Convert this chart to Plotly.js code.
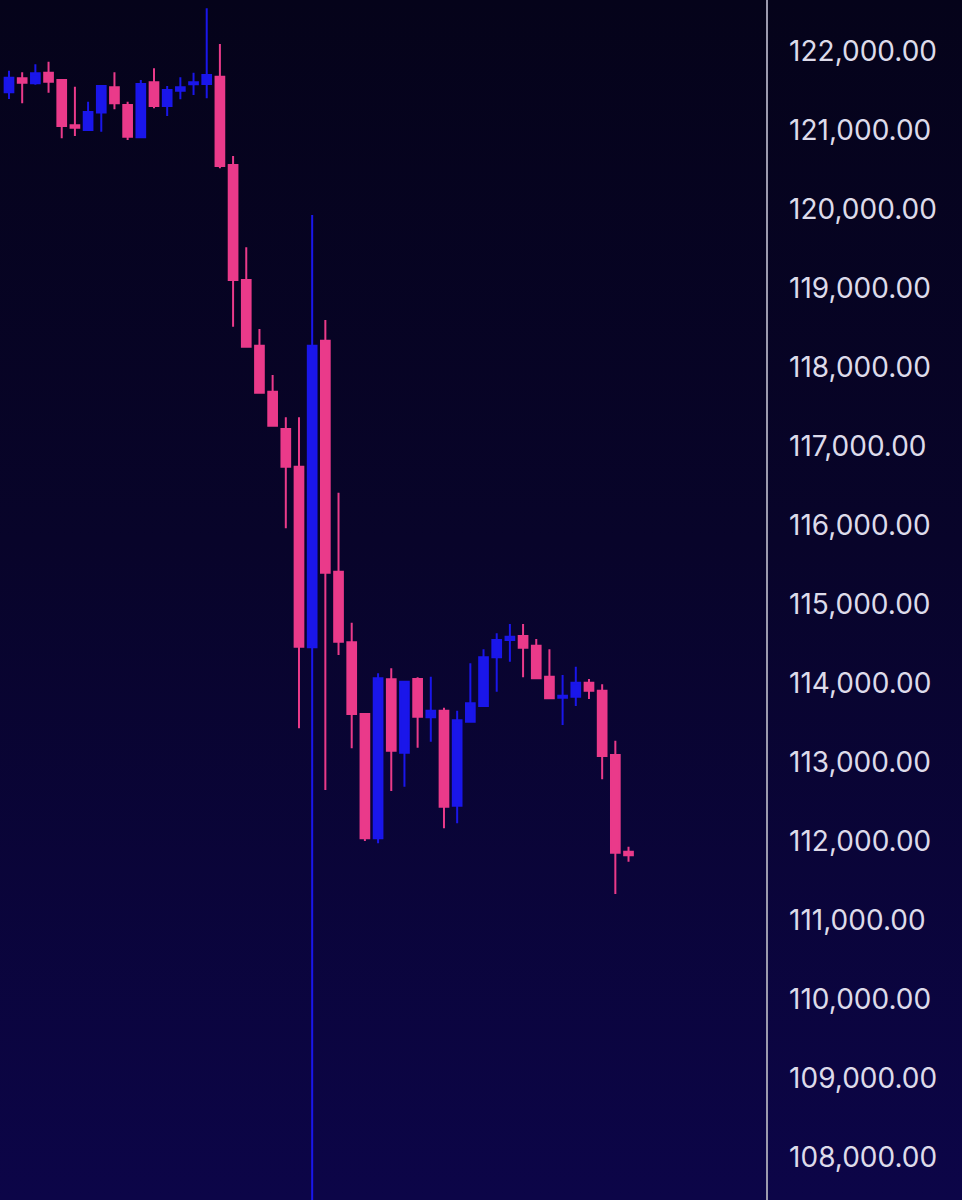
<!DOCTYPE html>
<html>
<head>
<meta charset="utf-8">
<script src="https://cdn.plot.ly/plotly-3.0.1.min.js"></script>
<style>
  html, body { margin: 0; padding: 0; }
  body { width: 962px; height: 1200px; background: linear-gradient(to bottom, #05031a 0%, #08042a 45%, #0c0548 100%); }
  #chart { width: 962px; height: 1200px; }
</style>
</head>
<body>
<div id="chart"></div>
<script>
// Candle index (time order)
const candleIndex = [0,1,2,3,4,5,6,7,8,9,10,11,12,13,14,15,16,17,18,19,20,21,22,23,24,25,26,27,28,29,30,31,32,33,34,35,36,37,38,39,40,41,42,43,44,45,46,47];

const openVals = [121484,121661,121597,121732,121639,121066,121006,121228,121547,121323,120914,121610,121310,121504,121585,121589,
  121681,120563,119108,118276,117694,117222,116744,114458,118339,115415,114522,113614,112041,114053,113124,114057,113572,113656,112453,113517,
  113715,114332,114551,114601,114479,114086,113820,113833,114010,113909,113095,111871];
const highVals = [121757,121737,121838,121871,121652,121554,121365,121570,121737,121365,121639,121787,121563,121673,121732,122547,
  122095,120677,119521,118487,117905,117370,117370,119930,118601,116415,114770,113614,114129,114193,114031,114079,114086,113694,113656,114256,
  114433,114636,114753,114753,114563,114433,114108,114213,114057,113990,113276,111934];
const lowVals = [121399,121344,121580,121478,120901,120930,121000,120985,121268,120880,120914,121281,121184,121395,121449,121408,
  120522,118517,118255,117673,117263,115965,113433,106500,112652,114361,113180,112006,111977,112639,112694,113188,113264,112167,112231,113517,
  113715,113897,114276,114079,114053,113808,113475,113715,113804,112787,111336,111744];
const closeVals = [121668,121605,121724,121618,121057,121035,121234,121563,121344,120922,121589,121310,121513,121547,121610,121703,
  120551,119108,118263,117681,117263,116744,114466,118276,115403,114529,113614,112041,114066,113150,114022,113580,113656,112440,113534,113750,
  114332,114551,114593,114453,114066,113813,113846,114010,113909,113082,111858,111825];

const priceTicks = [108000,109000,110000,111000,112000,113000,114000,115000,116000,117000,118000,119000,120000,121000,122000];

const upColor = '#1a16ea';
const downColor = '#ea3a8a';

const trace = {
  type: 'candlestick',
  x: candleIndex,
  open: openVals,
  high: highVals,
  low: lowVals,
  close: closeVals,
  increasing: { line: { color: upColor, width: 2 }, fillcolor: upColor },
  decreasing: { line: { color: downColor, width: 2 }, fillcolor: downColor },
  whiskerwidth: 0,
  hoverinfo: 'none',
  showlegend: false
};

const layout = {
  width: 962,
  height: 1200,
  margin: { l: 0, r: 196, t: 0, b: 0, pad: 0 },
  paper_bgcolor: 'rgba(0,0,0,0)',
  plot_bgcolor: 'rgba(0,0,0,0)',
  showlegend: false,
  boxgap: 0,
  boxgroupgap: 0.34,
  xaxis: {
    range: [-0.683, 57.43],
    showgrid: false, zeroline: false, showline: false, showticklabels: false, ticks: '',
    rangeslider: { visible: false },
    fixedrange: true
  },
  yaxis: {
    side: 'right',
    range: [107462, 122652],
    tickvals: priceTicks,
    tickformat: ',.2f',
    showgrid: false, zeroline: false,
    showline: true, linecolor: '#9c9aae', linewidth: 1.5,
    ticks: 'outside', ticklen: 16, tickcolor: 'rgba(0,0,0,0)',
    tickfont: { family: 'Inter, "Open Sans", sans-serif', size: 28, color: '#dddbea' },
    fixedrange: true
  }
};

Plotly.newPlot('chart', [trace], layout, { displayModeBar: false, staticPlot: true });
</script>
</body>
</html>
